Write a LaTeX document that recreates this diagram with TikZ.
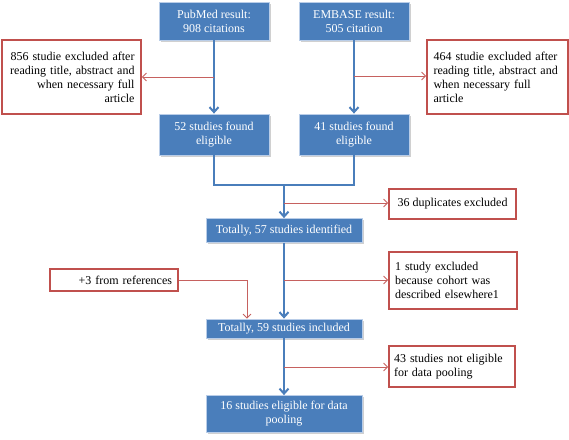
\documentclass[tikz,border=0pt]{standalone}
\usepackage{fontspec}
\setmainfont{Liberation Serif}
\usetikzlibrary{arrows.meta,shadows}
\definecolor{bluefill}{HTML}{4A7EBB}
\definecolor{blueedge}{HTML}{B9CDE8}
\definecolor{rededge}{HTML}{C0504D}
\definecolor{blueline}{HTML}{4A7EBB}
\begin{document}
\begin{tikzpicture}[x=1pt,y=-1pt,
  bluebox/.style={fill=bluefill,draw=blueedge,line width=0.8pt,text=white,align=center,
    inner sep=2pt,font=\fontsize{12}{14}\selectfont\rmfamily,
    drop shadow={shadow xshift=1.5pt,shadow yshift=-1.5pt,fill=black!30,opacity=0.6}},
  redbox/.style={fill=white,draw=rededge,line width=1.8pt,text=black,inner sep=4pt,
    font=\fontsize{12}{14}\selectfont\rmfamily,
    drop shadow={shadow xshift=1.2pt,shadow yshift=-1.2pt,fill=black!25,opacity=0.5}},
  bluearrow/.style={draw=blueline,line width=2.6pt,-{Straight Barb[length=5pt,width=9pt,line width=2pt]}},
  blueline/.style={draw=blueline,line width=2.6pt},
  redarrow/.style={draw=rededge!90,line width=0.8pt,-{Straight Barb[length=4pt,width=8pt,line width=0.8pt]}},
  redline/.style={draw=rededge!90,line width=0.8pt}]
\useasboundingbox[fill=white] (0,0) rectangle (569,439);

\node[bluebox,minimum width=110pt,minimum height=38pt] (pub) at (214,21) {PubMed result:\\908 citations};
\node[bluebox,minimum width=110pt,minimum height=38pt] (emb) at (354,21) {EMBASE result:\\505 citation};
\node[redbox,minimum width=139pt,minimum height=74pt,align=right,text width=126pt] (ex1) at (71.5,77) {856 studie excluded after\\reading title, abstract and\\when necessary full\\article};
\node[redbox,minimum width=141pt,minimum height=74pt,align=left,text width=128pt] (ex2) at (497.5,77) {464 studie excluded after\\reading title, abstract and\\when necessary full\\article};
\node[bluebox,minimum width=110pt,minimum height=41pt] (s52) at (214,134.5) {52 studies found\\eligible};
\node[bluebox,minimum width=110pt,minimum height=41pt] (s41) at (354,134.5) {41 studies found\\eligible};
\node[redbox,minimum width=127pt,minimum height=30pt] (dup) at (452.5,204) {36 duplicates excluded};
\node[bluebox,minimum width=156pt,minimum height=24pt] (t57) at (284,230.5) {Totally, 57 studies identified};
\node[redbox,minimum width=128pt,minimum height=22pt,align=right,text width=116pt,inner sep=2pt] (ref) at (114,280) {+3 from references};
\node[redbox,minimum width=128pt,minimum height=57pt,align=left,text width=116pt] (one) at (453,280.5) {1 study excluded\\because cohort was\\described elsewhere1};
\node[bluebox,minimum width=156pt,minimum height=19pt] (t59) at (284,328.5) {Totally, 59 studies included};
\node[redbox,minimum width=126pt,minimum height=41pt,align=left,text width=116pt] (n43) at (452,366.5) {43 studies not eligible\\for data pooling};
\node[bluebox,minimum width=156pt,minimum height=37pt] (s16) at (284,414) {16 studies eligible for data\\pooling};

\coordinate (m52) at (214,185);
\coordinate (m41) at (354,185);
\coordinate (mid) at (284,185);
\coordinate (b1) at (214,77);
\coordinate (b2) at (354,76);
\coordinate (b3) at (284,203);
\coordinate (b4) at (284,280);
\coordinate (b5) at (284,367);
\coordinate (r1) at (247,280);

\draw[bluearrow] (pub.south) -- (s52.north);
\draw[bluearrow] (emb.south) -- (s41.north);
\draw[blueline,line join=miter] (s52.south) -- (m52) -- (mid);
\draw[blueline,line join=miter] (s41.south) -- (m41) -- (mid);
\draw[bluearrow] (mid) -- (t57.north);
\draw[bluearrow] (t57.south) -- (t59.north);
\draw[bluearrow] (t59.south) -- (s16.north);

\draw[redarrow] (b1) -- (ex1.east |- b1);
\draw[redarrow] (b2) -- (ex2.west |- b2);
\draw[redarrow] (b3) -- (dup.west |- b3);
\draw[redarrow] (b4) -- (one.west |- b4);
\draw[redarrow] (b5) -- (n43.west |- b5);
\draw[redarrow] (ref.east) -- (r1) -- (r1 |- t59.north);
\end{tikzpicture}
\end{document}
